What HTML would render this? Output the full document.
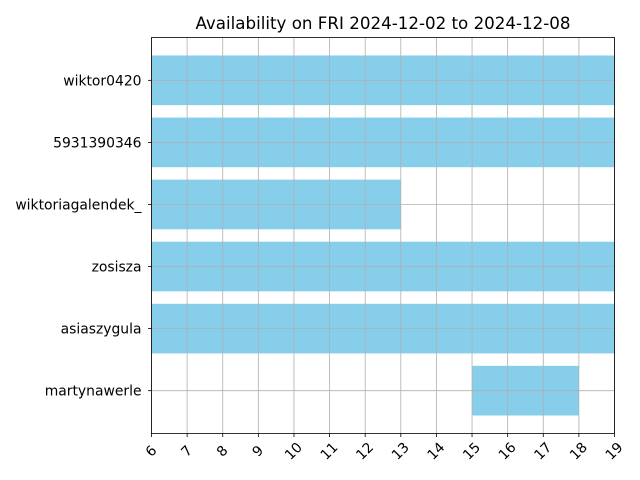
<!DOCTYPE html>
<html><head><meta charset="utf-8"><style>
body{margin:0;background:#fff}
svg{display:block;font-family:"DejaVu Sans","Liberation Sans",sans-serif}
</style></head><body>
<svg id="chart" width="640" height="480" xmlns="http://www.w3.org/2000/svg"></svg>
<script>
const categories = ["martynawerle","asiaszygula","zosisza","wiktoriagalendek_","5931390346","wiktor0420"];
const barStarts = [15,6,6,6,6,6];
const barEnds = [18,19,19,13,19,19];
const xTicks = [6,7,8,9,10,11,12,13,14,15,16,17,18,19];
const titleText = "Availability on FRI 2024-12-02 to 2024-12-08";

const L=151.5,R=614.5,T=37.5,B=433.5;
const xMin=6,xMax=19,yMin=-0.69,yMax=5.69;
const xs=v=>L+(v-xMin)/(xMax-xMin)*(R-L);
const ys=v=>B-(v-yMin)/(yMax-yMin)*(B-T);
const svg=document.getElementById('chart');
const NS="http://www.w3.org/2000/svg";
function mk(tag,attrs,parent){const e=document.createElementNS(NS,tag);for(const k in attrs)e.setAttribute(k,attrs[k]);(parent||svg).appendChild(e);return e;}

const bars=mk('g',{});


categories.forEach((c,i)=>{
  const r=mk('rect',{x:xs(barStarts[i]),y:ys(i+0.4),width:xs(barEnds[i])-xs(barStarts[i]),height:ys(i-0.4)-ys(i+0.4),fill:'#87ceeb'},bars);
  
  
});
const grid=mk('g',{stroke:'#b0b0b0','stroke-width':0.8});


xTicks.forEach(t=>mk('line',{x1:xs(t),x2:xs(t),y1:T,y2:B},grid));
categories.forEach((c,i)=>mk('line',{x1:L,x2:R,y1:ys(i),y2:ys(i)},grid));

const frame=mk('rect',{x:L,y:T,width:R-L,height:B-T,fill:'none',stroke:'#000','stroke-width':0.8});



const xa=mk('g',{});


xTicks.forEach(t=>{
  const x=xs(t);
  mk('line',{x1:x,x2:x,y1:B,y2:B+3.5,stroke:'#000','stroke-width':0.8},xa);
  const cy=B+18;
  const tx=mk('text',{x:x,y:cy,'text-anchor':'middle','dominant-baseline':'central','font-size':13.9,transform:`rotate(-45 ${x} ${cy})`},xa);
  tx.textContent=t;
  
  
});
const ya=mk('g',{});


categories.forEach((c,i)=>{
  const y=ys(i);
  mk('line',{x1:L-3.5,x2:L,y1:y,y2:y,stroke:'#000','stroke-width':0.8},ya);
  const tx=mk('text',{x:L-10,y:y+1,'text-anchor':'end','dominant-baseline':'central','font-size':13.9},ya);
  tx.textContent=c;
  
  
});
const title=mk('text',{x:(L+R)/2,y:29,'text-anchor':'middle','font-size':16.7});
title.textContent=titleText;


</script>
</body></html>
